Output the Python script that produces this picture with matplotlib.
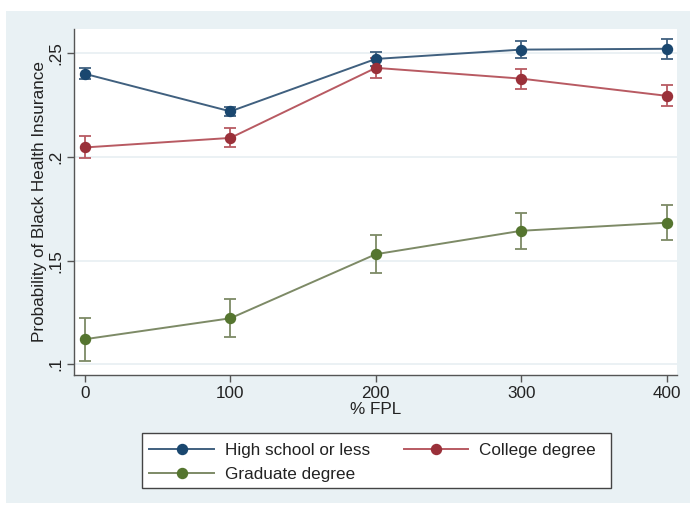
import matplotlib
matplotlib.use("Agg")
import matplotlib.pyplot as plt
from matplotlib.patches import Rectangle

plt.rcParams['font.family'] = ['Liberation Sans', 'DejaVu Sans']

fpl = [0, 100, 200, 300, 400]
x_ticks = [0, 100, 200, 300, 400]
y_ticks = [0.10, 0.15, 0.20, 0.25]
y_tick_labels = ['.1', '.15', '.2', '.25']

hs_prob = [0.2401, 0.2220, 0.2473, 0.2518, 0.2522]
hs_err = [0.0027, 0.0023, 0.0034, 0.0041, 0.0047]
col_prob = [0.2046, 0.2092, 0.2430, 0.2378, 0.2295]
col_err = [0.0053, 0.0046, 0.0048, 0.0048, 0.0051]
grad_prob = [0.1121, 0.1222, 0.1531, 0.1644, 0.1683]
grad_err = [0.0103, 0.0092, 0.0093, 0.0088, 0.0083]

series = [
    ("High school or less", hs_prob, hs_err, "#1a476f", "#40607f"),
    ("College degree", col_prob, col_err, "#9a3039", "#b85a62"),
    ("Graduate degree", grad_prob, grad_err, "#55752f", "#7d8a66"),
]

W, H = 690, 508
fig = plt.figure(figsize=(W / 100, H / 100), dpi=100)
fig.patch.set_facecolor("white")

# light graph-region panel behind the plot
fig.patches.append(Rectangle((6 / W, 1 - 503 / H), 684 / W, 492 / H,
                             transform=fig.transFigure, facecolor="#e9f1f4",
                             edgecolor="none", zorder=-10))
# legend box
fig.patches.append(Rectangle((142.3 / W, 1 - 488.3 / H), (610.7 - 142.3) / W,
                             (488.3 - 432.7) / H, transform=fig.transFigure,
                             facecolor="white", edgecolor="#444444", lw=1.0,
                             zorder=-5))

ax = fig.add_axes([74 / W, 1 - 375 / H, (677.3 - 74) / W, (375 - 29) / H])
ax.set_zorder(1)
ax.set_facecolor("white")
ax.set_xlim(-7.56, 407.3)
ax.set_ylim(0.09483, 0.26174)

for yt in y_ticks:
    ax.axhline(yt, color="#e8eff2", lw=1.2, zorder=1)

handles = {}
for name, p, e, mcol, lcol in series:
    ax.errorbar(fpl, p, yerr=e, fmt="none", ecolor=lcol, elinewidth=1.3,
                capsize=4, capthick=1.3, zorder=2)
    ln, = ax.plot(fpl, p, color=lcol, lw=1.4, marker="o", ms=7.2,
                  mfc=mcol, mec=mcol, zorder=3, label=name)
    handles[name] = ln

for s in ["top", "right"]:
    ax.spines[s].set_visible(False)
for s in ["left", "bottom"]:
    ax.spines[s].set_color("#555555")
    ax.spines[s].set_linewidth(1.0)

ax.set_xticks(x_ticks)
ax.set_xticklabels([str(v) for v in x_ticks])
ax.set_yticks(y_ticks)
ax.set_yticklabels(y_tick_labels, rotation=90, va="center")
ax.tick_params(axis="both", length=5, width=1.0, color="#555555",
               labelsize=12.3, labelcolor="#222222", pad=3)
ax.set_xlabel("% FPL", fontsize=12.3, color="#222222", labelpad=1)
ax.set_ylabel("Probability of Black Health Insurance", fontsize=12.3,
              color="#222222", labelpad=0.5)

# column-major fill: first column HS / Graduate, second column College
order = ["High school or less", "Graduate degree", "College degree"]
leg = fig.legend(handles=[handles[k] for k in order], loc="upper left", ncol=2,
                 bbox_to_anchor=(142.3 / W, 1 - 435.5 / H),
                 fontsize=12.3, frameon=False,
                 handlelength=3.75, handletextpad=0.68, columnspacing=1.95,
                 borderpad=0.42, labelspacing=0.52, borderaxespad=0)
for t in leg.get_texts():
    t.set_color("#222222")

fig.savefig("out.png", dpi=100, facecolor=fig.get_facecolor())
